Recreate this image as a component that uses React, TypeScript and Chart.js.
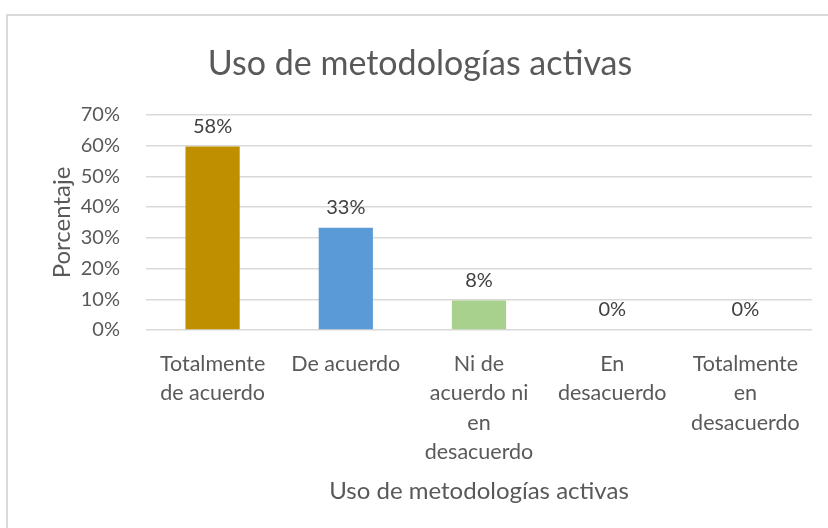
import React, { useEffect, useRef } from "react";
import { Chart, registerables } from "chart.js";

Chart.register(...registerables);

const categories: (string | string[])[] = [
  ["Totalmente", "de acuerdo"],
  "De acuerdo",
  ["Ni de", "acuerdo ni", "en", "desacuerdo"],
  ["En", "desacuerdo"],
  ["Totalmente", "en", "desacuerdo"],
];
const barValues = [59.7, 33.3, 9.6, 0, 0];
const valueLabels = ["58%", "33%", "8%", "0%", "0%"];
const barColors = ["#BF8F00", "#5B9BD5", "#A9D18E", "#A5A5A5", "#FFC000"];
const yTicks = [0, 10, 20, 30, 40, 50, 60, 70];

const chartTitle = "Uso de metodologías activas";
const xTitle = "Uso de metodologías activas";
const yTitle = "Porcentaje";

const FONT = "Lato, 'Open Sans', sans-serif";

const bgAndBorder = {
  id: "bgAndBorder",
  beforeDraw(chart: any) {
    const ctx = chart.ctx;
    ctx.save();
    ctx.fillStyle = "#ffffff";
    ctx.fillRect(0, 0, chart.width, chart.height);
    ctx.strokeStyle = "#D9D9D9";
    ctx.lineWidth = 2;
    ctx.strokeRect(7, 15, chart.width + 50, chart.height + 50);
    ctx.restore();
  },
};

const valueLabelPlugin = {
  id: "valueLabels",
  afterDatasetsDraw(chart: any) {
    const ctx = chart.ctx;
    const meta = chart.getDatasetMeta(0);
    ctx.save();
    ctx.font = `20px ${FONT}`;
    ctx.fillStyle = "#404040";
    ctx.textAlign = "center";
    ctx.textBaseline = "middle";
    meta.data.forEach((bar: any, i: number) => {
      ctx.fillText(valueLabels[i], bar.x, bar.y - 20);
    });
    ctx.restore();
  },
};

export default function App() {
  const ref = useRef<HTMLCanvasElement | null>(null);

  useEffect(() => {
    if (!ref.current) return;
    const chart = new Chart(ref.current, {
      type: "bar",
      data: {
        labels: categories,
        datasets: [
          {
            data: barValues,
            backgroundColor: barColors,
            borderWidth: 0,
            categoryPercentage: 1,
            barPercentage: 0.407,
          },
        ],
      },
      options: {
        animation: false,
        responsive: false,
        maintainAspectRatio: false,
        devicePixelRatio: 1,
        layout: { padding: { left: 28, right: 16, top: 0, bottom: 22 } },
        plugins: {
          legend: { display: false },
          tooltip: { enabled: false },
          title: {
            display: true,
            text: chartTitle,
            color: "#595959",
            font: { family: FONT, size: 34, weight: "normal" },
            padding: { top: 44, bottom: 30 },
          },
        },
        scales: {
          x: {
            grid: { display: false, drawTicks: false },
            border: { display: false },
            ticks: {
              color: "#595959",
              font: { family: FONT, size: 21.5, lineHeight: 1.35 },
              padding: 20,
              maxRotation: 0,
              minRotation: 0,
              autoSkip: false,
            },
            title: {
              display: true,
              text: xTitle,
              color: "#595959",
              font: { family: FONT, size: 24 },
              padding: 0,
            },
            afterFit(scale: any) {
              scale.height = 176;
            },
          },
          y: {
            min: 0,
            max: 70,
            afterBuildTicks(scale: any) {
              scale.ticks = yTicks.map((v) => ({ value: v }));
            },
            grid: { color: "#D9D9D9", lineWidth: 1.5, drawTicks: false },
            border: { display: false },
            ticks: {
              color: "#595959",
              font: { family: FONT, size: 20 },
              padding: 26,
              callback: (v: any) => `${v}%`,
            },
            title: {
              display: true,
              text: yTitle,
              color: "#595959",
              font: { family: FONT, size: 24 },
              padding: { top: 20, bottom: 0 },
            },
            afterFit(scale: any) {
              scale.width = 118;
            },
          },
        },
      },
      plugins: [bgAndBorder, valueLabelPlugin],
    });
    return () => chart.destroy();
  }, []);

  return (
    <div style={{ position: "fixed", left: 0, top: 0, width: 828, height: 528 }}>
      <canvas ref={ref} width={828} height={528} style={{ display: "block" }} />
    </div>
  );
}
